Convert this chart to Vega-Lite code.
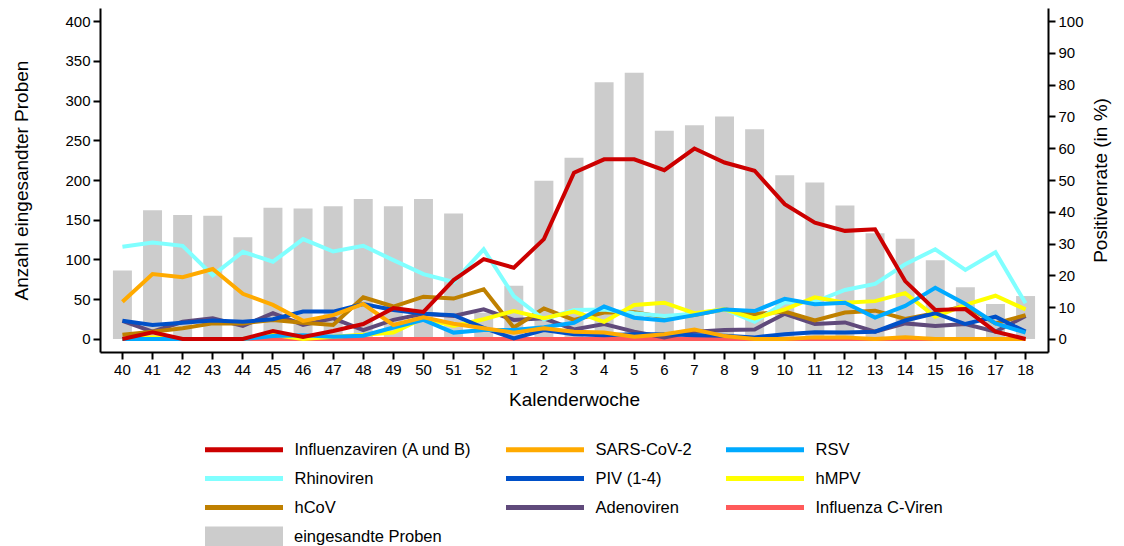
{
  "$schema": "https://vega.github.io/schema/vega-lite/v6.json",
  "width": 948,
  "height": 344,
  "autosize": {"type": "none"},
  "padding": {"left": 100, "top": 8, "right": 76, "bottom": 194},
  "background": "white",
  "config": {
    "view": {"stroke": null},
    "font": "Liberation Sans",
    "axis": {
      "domainColor": "black", "domainWidth": 2, "tickColor": "black", "tickWidth": 2, "tickSize": 7,
      "labelColor": "black", "labelFontSize": 15, "labelPadding": 3, "titleColor": "black",
      "titleFontSize": 19, "titleFontWeight": "normal", "grid": false
    },
    "legend": {"labelColor": "black", "labelFontSize": 16.5, "labelLimit": 0}
  },
  "datasets": {
    "proben": [
      {"kw":"40","n":86},{"kw":"41","n":162},{"kw":"42","n":156},{"kw":"43","n":155},{"kw":"44","n":128},
      {"kw":"45","n":165},{"kw":"46","n":164},{"kw":"47","n":167},{"kw":"48","n":176},{"kw":"49","n":167},
      {"kw":"50","n":176},{"kw":"51","n":158},{"kw":"52","n":33},{"kw":"1","n":67},{"kw":"2","n":199},
      {"kw":"3","n":228},{"kw":"4","n":323},{"kw":"5","n":335},{"kw":"6","n":262},{"kw":"7","n":269},
      {"kw":"8","n":280},{"kw":"9","n":264},{"kw":"10","n":206},{"kw":"11","n":197},{"kw":"12","n":168},
      {"kw":"13","n":133},{"kw":"14","n":126},{"kw":"15","n":99},{"kw":"16","n":65},{"kw":"17","n":44},{"kw":"18","n":54}
    ],
    "raten": [
      {"kw":"40","v":"Influenza C-Viren","r":0},{"kw":"41","v":"Influenza C-Viren","r":0},{"kw":"42","v":"Influenza C-Viren","r":0},{"kw":"43","v":"Influenza C-Viren","r":0},{"kw":"44","v":"Influenza C-Viren","r":0},{"kw":"45","v":"Influenza C-Viren","r":0},{"kw":"46","v":"Influenza C-Viren","r":0},{"kw":"47","v":"Influenza C-Viren","r":0},{"kw":"48","v":"Influenza C-Viren","r":0},{"kw":"49","v":"Influenza C-Viren","r":0},{"kw":"50","v":"Influenza C-Viren","r":0},{"kw":"51","v":"Influenza C-Viren","r":0},{"kw":"52","v":"Influenza C-Viren","r":0},{"kw":"1","v":"Influenza C-Viren","r":0},{"kw":"2","v":"Influenza C-Viren","r":0},{"kw":"3","v":"Influenza C-Viren","r":0},{"kw":"4","v":"Influenza C-Viren","r":0},{"kw":"5","v":"Influenza C-Viren","r":0},{"kw":"6","v":"Influenza C-Viren","r":0},{"kw":"7","v":"Influenza C-Viren","r":0},{"kw":"8","v":"Influenza C-Viren","r":0},{"kw":"9","v":"Influenza C-Viren","r":0},{"kw":"10","v":"Influenza C-Viren","r":0},{"kw":"11","v":"Influenza C-Viren","r":0},{"kw":"12","v":"Influenza C-Viren","r":0},{"kw":"13","v":"Influenza C-Viren","r":0},{"kw":"14","v":"Influenza C-Viren","r":0},{"kw":"15","v":"Influenza C-Viren","r":0},{"kw":"16","v":"Influenza C-Viren","r":0},{"kw":"17","v":"Influenza C-Viren","r":0},{"kw":"18","v":"Influenza C-Viren","r":0},

      {"kw":"40","v":"Adenoviren","r":5.7},{"kw":"41","v":"Adenoviren","r":2.3},{"kw":"42","v":"Adenoviren","r":5.4},{"kw":"43","v":"Adenoviren","r":6.5},{"kw":"44","v":"Adenoviren","r":4.1},{"kw":"45","v":"Adenoviren","r":8.1},{"kw":"46","v":"Adenoviren","r":4.4},{"kw":"47","v":"Adenoviren","r":6.5},{"kw":"48","v":"Adenoviren","r":2.8},{"kw":"49","v":"Adenoviren","r":6.0},{"kw":"50","v":"Adenoviren","r":7.9},{"kw":"51","v":"Adenoviren","r":7.2},{"kw":"52","v":"Adenoviren","r":9.3},{"kw":"1","v":"Adenoviren","r":6.0},{"kw":"2","v":"Adenoviren","r":6.5},{"kw":"3","v":"Adenoviren","r":3.0},{"kw":"4","v":"Adenoviren","r":4.7},{"kw":"5","v":"Adenoviren","r":2.3},{"kw":"6","v":"Adenoviren","r":0.5},{"kw":"7","v":"Adenoviren","r":2.3},{"kw":"8","v":"Adenoviren","r":2.8},{"kw":"9","v":"Adenoviren","r":3.0},{"kw":"10","v":"Adenoviren","r":7.9},{"kw":"11","v":"Adenoviren","r":4.7},{"kw":"12","v":"Adenoviren","r":5.2},{"kw":"13","v":"Adenoviren","r":2.3},{"kw":"14","v":"Adenoviren","r":4.9},{"kw":"15","v":"Adenoviren","r":4.1},{"kw":"16","v":"Adenoviren","r":4.7},{"kw":"17","v":"Adenoviren","r":2.3},{"kw":"18","v":"Adenoviren","r":7.2},

      {"kw":"40","v":"hCoV","r":1.3},{"kw":"41","v":"hCoV","r":2.3},{"kw":"42","v":"hCoV","r":3.4},{"kw":"43","v":"hCoV","r":4.9},{"kw":"44","v":"hCoV","r":4.9},{"kw":"45","v":"hCoV","r":6.0},{"kw":"46","v":"hCoV","r":5.1},{"kw":"47","v":"hCoV","r":4.4},{"kw":"48","v":"hCoV","r":13.1},{"kw":"49","v":"hCoV","r":10.2},{"kw":"50","v":"hCoV","r":13.3},{"kw":"51","v":"hCoV","r":12.7},{"kw":"52","v":"hCoV","r":15.6},{"kw":"1","v":"hCoV","r":3.6},{"kw":"2","v":"hCoV","r":9.6},{"kw":"3","v":"hCoV","r":6.0},{"kw":"4","v":"hCoV","r":8.3},{"kw":"5","v":"hCoV","r":8.4},{"kw":"6","v":"hCoV","r":6.8},{"kw":"7","v":"hCoV","r":7.5},{"kw":"8","v":"hCoV","r":9.3},{"kw":"9","v":"hCoV","r":7.8},{"kw":"10","v":"hCoV","r":8.6},{"kw":"11","v":"hCoV","r":5.8},{"kw":"12","v":"hCoV","r":8.3},{"kw":"13","v":"hCoV","r":8.9},{"kw":"14","v":"hCoV","r":6.3},{"kw":"15","v":"hCoV","r":8.1},{"kw":"16","v":"hCoV","r":10.4},{"kw":"17","v":"hCoV","r":4.9},{"kw":"18","v":"hCoV","r":7.5},

      {"kw":"40","v":"Rhinoviren","r":29.0},{"kw":"41","v":"Rhinoviren","r":30.3},{"kw":"42","v":"Rhinoviren","r":29.3},{"kw":"43","v":"Rhinoviren","r":20.0},{"kw":"44","v":"Rhinoviren","r":27.4},{"kw":"45","v":"Rhinoviren","r":24.3},{"kw":"46","v":"Rhinoviren","r":31.4},{"kw":"47","v":"Rhinoviren","r":27.5},{"kw":"48","v":"Rhinoviren","r":29.3},{"kw":"49","v":"Rhinoviren","r":24.8},{"kw":"50","v":"Rhinoviren","r":20.4},{"kw":"51","v":"Rhinoviren","r":17.9},{"kw":"52","v":"Rhinoviren","r":28.2},{"kw":"1","v":"Rhinoviren","r":13.5},{"kw":"2","v":"Rhinoviren","r":6.2},{"kw":"3","v":"Rhinoviren","r":9.1},{"kw":"4","v":"Rhinoviren","r":9.3},{"kw":"5","v":"Rhinoviren","r":8.1},{"kw":"6","v":"Rhinoviren","r":7.2},{"kw":"7","v":"Rhinoviren","r":7.9},{"kw":"8","v":"Rhinoviren","r":9.3},{"kw":"9","v":"Rhinoviren","r":5.4},{"kw":"10","v":"Rhinoviren","r":11.5},{"kw":"11","v":"Rhinoviren","r":11.7},{"kw":"12","v":"Rhinoviren","r":15.4},{"kw":"13","v":"Rhinoviren","r":17.3},{"kw":"14","v":"Rhinoviren","r":23.5},{"kw":"15","v":"Rhinoviren","r":28.2},{"kw":"16","v":"Rhinoviren","r":21.7},{"kw":"17","v":"Rhinoviren","r":27.3},{"kw":"18","v":"Rhinoviren","r":11.2},

      {"kw":"40","v":"hMPV","r":0},{"kw":"41","v":"hMPV","r":0.5},{"kw":"42","v":"hMPV","r":0},{"kw":"43","v":"hMPV","r":0},{"kw":"44","v":"hMPV","r":0},{"kw":"45","v":"hMPV","r":1.3},{"kw":"46","v":"hMPV","r":0},{"kw":"47","v":"hMPV","r":0.7},{"kw":"48","v":"hMPV","r":1.3},{"kw":"49","v":"hMPV","r":2.0},{"kw":"50","v":"hMPV","r":6.5},{"kw":"51","v":"hMPV","r":4.1},{"kw":"52","v":"hMPV","r":6.2},{"kw":"1","v":"hMPV","r":8.8},{"kw":"2","v":"hMPV","r":6.5},{"kw":"3","v":"hMPV","r":8.6},{"kw":"4","v":"hMPV","r":5.4},{"kw":"5","v":"hMPV","r":10.7},{"kw":"6","v":"hMPV","r":11.4},{"kw":"7","v":"hMPV","r":8.1},{"kw":"8","v":"hMPV","r":9.3},{"kw":"9","v":"hMPV","r":6.5},{"kw":"10","v":"hMPV","r":9.3},{"kw":"11","v":"hMPV","r":13.1},{"kw":"12","v":"hMPV","r":11.4},{"kw":"13","v":"hMPV","r":11.9},{"kw":"14","v":"hMPV","r":14.4},{"kw":"15","v":"hMPV","r":7.0},{"kw":"16","v":"hMPV","r":10.7},{"kw":"17","v":"hMPV","r":13.6},{"kw":"18","v":"hMPV","r":9.3},

      {"kw":"40","v":"PIV (1-4)","r":5.7},{"kw":"41","v":"PIV (1-4)","r":4.4},{"kw":"42","v":"PIV (1-4)","r":5.1},{"kw":"43","v":"PIV (1-4)","r":5.8},{"kw":"44","v":"PIV (1-4)","r":5.4},{"kw":"45","v":"PIV (1-4)","r":6.2},{"kw":"46","v":"PIV (1-4)","r":8.6},{"kw":"47","v":"PIV (1-4)","r":8.6},{"kw":"48","v":"PIV (1-4)","r":11.0},{"kw":"49","v":"PIV (1-4)","r":9.1},{"kw":"50","v":"PIV (1-4)","r":7.9},{"kw":"51","v":"PIV (1-4)","r":7.5},{"kw":"52","v":"PIV (1-4)","r":3.5},{"kw":"1","v":"PIV (1-4)","r":0.2},{"kw":"2","v":"PIV (1-4)","r":2.8},{"kw":"3","v":"PIV (1-4)","r":1.5},{"kw":"4","v":"PIV (1-4)","r":1.2},{"kw":"5","v":"PIV (1-4)","r":1.5},{"kw":"6","v":"PIV (1-4)","r":1.5},{"kw":"7","v":"PIV (1-4)","r":1.2},{"kw":"8","v":"PIV (1-4)","r":1.0},{"kw":"9","v":"PIV (1-4)","r":0.5},{"kw":"10","v":"PIV (1-4)","r":1.5},{"kw":"11","v":"PIV (1-4)","r":2.1},{"kw":"12","v":"PIV (1-4)","r":2.0},{"kw":"13","v":"PIV (1-4)","r":2.3},{"kw":"14","v":"PIV (1-4)","r":5.8},{"kw":"15","v":"PIV (1-4)","r":8.1},{"kw":"16","v":"PIV (1-4)","r":4.7},{"kw":"17","v":"PIV (1-4)","r":7.0},{"kw":"18","v":"PIV (1-4)","r":2.3},

      {"kw":"40","v":"RSV","r":0},{"kw":"41","v":"RSV","r":0},{"kw":"42","v":"RSV","r":0},{"kw":"43","v":"RSV","r":0},{"kw":"44","v":"RSV","r":0},{"kw":"45","v":"RSV","r":0.9},{"kw":"46","v":"RSV","r":1.2},{"kw":"47","v":"RSV","r":0.7},{"kw":"48","v":"RSV","r":1.0},{"kw":"49","v":"RSV","r":3.6},{"kw":"50","v":"RSV","r":6.0},{"kw":"51","v":"RSV","r":2.0},{"kw":"52","v":"RSV","r":2.8},{"kw":"1","v":"RSV","r":2.8},{"kw":"2","v":"RSV","r":3.7},{"kw":"3","v":"RSV","r":5.1},{"kw":"4","v":"RSV","r":10.2},{"kw":"5","v":"RSV","r":6.7},{"kw":"6","v":"RSV","r":5.8},{"kw":"7","v":"RSV","r":7.5},{"kw":"8","v":"RSV","r":9.3},{"kw":"9","v":"RSV","r":8.8},{"kw":"10","v":"RSV","r":12.6},{"kw":"11","v":"RSV","r":10.9},{"kw":"12","v":"RSV","r":11.4},{"kw":"13","v":"RSV","r":6.7},{"kw":"14","v":"RSV","r":10.4},{"kw":"15","v":"RSV","r":16.1},{"kw":"16","v":"RSV","r":11.0},{"kw":"17","v":"RSV","r":4.9},{"kw":"18","v":"RSV","r":2.0},

      {"kw":"40","v":"SARS-CoV-2","r":11.7},{"kw":"41","v":"SARS-CoV-2","r":20.4},{"kw":"42","v":"SARS-CoV-2","r":19.4},{"kw":"43","v":"SARS-CoV-2","r":22.0},{"kw":"44","v":"SARS-CoV-2","r":14.2},{"kw":"45","v":"SARS-CoV-2","r":10.7},{"kw":"46","v":"SARS-CoV-2","r":5.7},{"kw":"47","v":"SARS-CoV-2","r":7.5},{"kw":"48","v":"SARS-CoV-2","r":11.0},{"kw":"49","v":"SARS-CoV-2","r":4.4},{"kw":"50","v":"SARS-CoV-2","r":6.8},{"kw":"51","v":"SARS-CoV-2","r":4.8},{"kw":"52","v":"SARS-CoV-2","r":3.4},{"kw":"1","v":"SARS-CoV-2","r":2.0},{"kw":"2","v":"SARS-CoV-2","r":3.4},{"kw":"3","v":"SARS-CoV-2","r":2.3},{"kw":"4","v":"SARS-CoV-2","r":2.0},{"kw":"5","v":"SARS-CoV-2","r":0.7},{"kw":"6","v":"SARS-CoV-2","r":1.5},{"kw":"7","v":"SARS-CoV-2","r":3.0},{"kw":"8","v":"SARS-CoV-2","r":0.9},{"kw":"9","v":"SARS-CoV-2","r":0},{"kw":"10","v":"SARS-CoV-2","r":0},{"kw":"11","v":"SARS-CoV-2","r":0.5},{"kw":"12","v":"SARS-CoV-2","r":0.5},{"kw":"13","v":"SARS-CoV-2","r":0},{"kw":"14","v":"SARS-CoV-2","r":0.5},{"kw":"15","v":"SARS-CoV-2","r":0},{"kw":"16","v":"SARS-CoV-2","r":0},{"kw":"17","v":"SARS-CoV-2","r":0},{"kw":"18","v":"SARS-CoV-2","r":0},

      {"kw":"40","v":"Influenzaviren (A und B)","r":0},{"kw":"41","v":"Influenzaviren (A und B)","r":2.1},{"kw":"42","v":"Influenzaviren (A und B)","r":0},{"kw":"43","v":"Influenzaviren (A und B)","r":0},{"kw":"44","v":"Influenzaviren (A und B)","r":0},{"kw":"45","v":"Influenzaviren (A und B)","r":2.5},{"kw":"46","v":"Influenzaviren (A und B)","r":0.6},{"kw":"47","v":"Influenzaviren (A und B)","r":2.5},{"kw":"48","v":"Influenzaviren (A und B)","r":4.7},{"kw":"49","v":"Influenzaviren (A und B)","r":9.7},{"kw":"50","v":"Influenzaviren (A und B)","r":8.5},{"kw":"51","v":"Influenzaviren (A und B)","r":18.5},{"kw":"52","v":"Influenzaviren (A und B)","r":25.1},{"kw":"1","v":"Influenzaviren (A und B)","r":22.4},{"kw":"2","v":"Influenzaviren (A und B)","r":31.4},{"kw":"3","v":"Influenzaviren (A und B)","r":52.3},{"kw":"4","v":"Influenzaviren (A und B)","r":56.5},{"kw":"5","v":"Influenzaviren (A und B)","r":56.5},{"kw":"6","v":"Influenzaviren (A und B)","r":53.1},{"kw":"7","v":"Influenzaviren (A und B)","r":59.9},{"kw":"8","v":"Influenzaviren (A und B)","r":55.5},{"kw":"9","v":"Influenzaviren (A und B)","r":52.9},{"kw":"10","v":"Influenzaviren (A und B)","r":42.4},{"kw":"11","v":"Influenzaviren (A und B)","r":36.6},{"kw":"12","v":"Influenzaviren (A und B)","r":34.0},{"kw":"13","v":"Influenzaviren (A und B)","r":34.5},{"kw":"14","v":"Influenzaviren (A und B)","r":18.2},{"kw":"15","v":"Influenzaviren (A und B)","r":9.1},{"kw":"16","v":"Influenzaviren (A und B)","r":9.4},{"kw":"17","v":"Influenzaviren (A und B)","r":2.3},{"kw":"18","v":"Influenzaviren (A und B)","r":0}
    ]
  },
  "layer": [
    {
      "data": {"name": "proben"},
      "mark": {"type": "bar"},
      "encoding": {
        "x": {
          "field": "kw", "type": "ordinal",
          "scale": {"domain": ["40","41","42","43","44","45","46","47","48","49","50","51","52","1","2","3","4","5","6","7","8","9","10","11","12","13","14","15","16","17","18"], "paddingInner": 0.37, "paddingOuter": 0.43},
          "axis": {"title": "Kalenderwoche", "labelAngle": 0, "titlePadding": 13}
        },
        "y": {
          "field": "n", "type": "quantitative",
          "scale": {"domain": [-16.4, 416.4], "nice": false, "zero": false},
          "axis": {"title": "Anzahl eingesandter Proben", "values": [0,50,100,150,200,250,300,350,400], "titlePadding": 33}
        },
        "fill": {
          "datum": "eingesandte Proben", "type": "nominal",
          "scale": {"range": ["#cccccc"]},
          "legend": {"title": null, "orient": "none", "legendX": 105, "legendY": 519, "symbolType": "M-3.9,-1.05H3.9V1.05H-3.9Z", "symbolSize": 400, "symbolStrokeWidth": 0, "symbolOffset": 29, "labelOffset": 40, "symbolOpacity": 1}
        }
      }
    },
    {
      "data": {"name": "raten"},
      "mark": {"type": "line", "strokeWidth": 4},
      "encoding": {
        "x": {"field": "kw", "type": "ordinal"},
        "y": {
          "field": "r", "type": "quantitative",
          "scale": {"domain": [-4.1, 104.1], "nice": false, "zero": false},
          "axis": {"orient": "right", "title": "Positivenrate (in %)", "values": [0,10,20,30,40,50,60,70,80,90,100], "titleAngle": 270, "titleBaseline": "top", "titlePadding": 8}
        },
        "stroke": {
          "field": "v", "type": "nominal",
          "scale": {
            "domain": ["Influenzaviren (A und B)", "SARS-CoV-2", "RSV", "Rhinoviren", "PIV (1-4)", "hMPV", "hCoV", "Adenoviren", "Influenza C-Viren"],
            "range": ["#cc0000", "#ffaa00", "#00aaff", "#80ffff", "#0050c8", "#ffff00", "#bf8000", "#604a7b", "#ff5a5a"]
          },
          "legend": {"title": null, "orient": "none", "direction": "horizontal", "legendX": 105, "legendY": 429, "columns": 3, "columnPadding": 24, "rowPadding": 6, "symbolType": "M-3.9,0H3.9", "symbolSize": 400, "symbolStrokeWidth": 5, "symbolOffset": 26.5, "labelOffset": 38}
        }
      }
    }
  ],
  "resolve": {"scale": {"y": "independent"}}
}
